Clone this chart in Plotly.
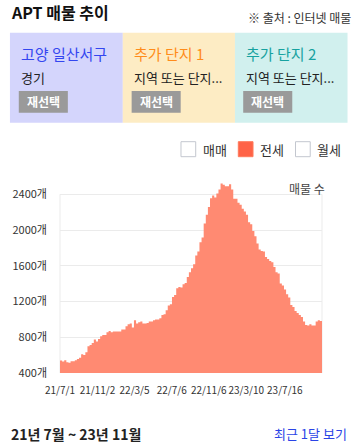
import plotly.graph_objects as go
import pandas as pd

W, H = 356, 446
ML, MR, MT, MB = 55, 34, 180, 73
FONT = "Noto Sans CJK KR"

# weekly listing counts (전세)
week_start = pd.date_range('2021-07-01', periods=124, freq='7D')
listings = [539, 528, 542, 520, 516, 531, 531, 542, 557, 572,
            609, 602, 632, 699, 714, 736, 774, 752, 781, 811,
            826, 826, 856, 870, 856, 864, 864, 864, 864, 886,
            886, 923, 945, 953, 908, 990, 953, 968, 976, 953,
            953, 960, 976, 976, 990, 998, 998, 1013, 1050, 1057,
            1102, 1155, 1169, 1251, 1274, 1349, 1363, 1356, 1393, 1408,
            1475, 1528, 1573, 1618, 1715, 1760, 1864, 1916, 2073, 2170,
            2259, 2357, 2387, 2364, 2409, 2454, 2521, 2506, 2491, 2491,
            2513, 2454, 2349, 2349, 2304, 2282, 2237, 2207, 2170, 2088,
            2065, 1990, 1931, 1849, 1782, 1766, 1760, 1699, 1677, 1654,
            1640, 1587, 1528, 1513, 1401, 1379, 1334, 1281, 1244, 1162,
            1139, 1094, 1072, 1050, 1027, 976, 938, 931, 945, 931,
            931, 976, 990, 983]

tick_dates = ['2021-07-01', '2021-11-02', '2022-03-05', '2022-07-06',
              '2022-11-06', '2023-03-10', '2023-07-16']
tick_labels = ['21/7/1', '21/11/2', '22/3/5', '22/7/6', '22/11/6', '23/3/10', '23/7/16']
y_ticks = [400, 800, 1200, 1600, 2000, 2400]
y_labels = [f'{v}개' for v in y_ticks]

# step ends one week after the last start
period_end = week_start[-1] + pd.Timedelta(days=7)
xs = list(week_start) + [period_end]
ys = listings + [listings[-1]]

FILL = '#ff8a72'


def px(x):
    return (x - ML) / (W - ML - MR)


def py(y):
    return (H - MB - y) / (H - MT - MB)


fig = go.Figure()
fig.add_trace(go.Scatter(x=xs, y=ys, mode='lines', line_shape='hv',
                         fill='tozeroy', fillcolor=FILL,
                         line=dict(width=0, color=FILL), hoverinfo='skip'))

shapes = []
annotations = []


def rect(x0, y0, x1, y1, fill, line=None, lw=0, layer='above'):
    shapes.append(dict(type='rect', xref='paper', yref='paper',
                       x0=px(x0), x1=px(x1), y0=py(y1), y1=py(y0),
                       fillcolor=fill, layer=layer,
                       line=dict(width=lw, color=line or fill)))


def text(x, y, s, size=13, color='#222', anchor='left', bold=False):
    annotations.append(dict(xref='paper', yref='paper', x=px(x), y=py(y),
                            text=f'<b>{s}</b>' if bold else s,
                            showarrow=False, xanchor=anchor, yanchor='middle',
                            borderpad=0,
                            font=dict(family=FONT, size=size, color=color)))


# header
text(4, 12, 'APT 매물 추이', size=16, color='#111', bold=True)
text(353, 17, '※ 출처 : 인터넷 매물', size=12, color='#333', anchor='right')

# selection boxes
boxes = [
    (4, 119, '#d4d5fc', '고양 일산서구', '#3346f0', '경기', 13),
    (119, 233.3, '#fdecc4', '추가 단지 1', '#ff8c1a', '지역 또는 단지...', 128),
    (233.3, 348, '#d1f0ee', '추가 단지 2', '#17a2a0', '지역 또는 단지...', 241.7),
]
for x0, x1, bg, title, tcolor, sub, bx in boxes:
    rect(x0, 32.7, x1, 122.7, bg)
    text(x0 + 10, 54, title, size=15, color=tcolor)
    text(x0 + 10, 78, sub, size=13, color='#222')
    rect(bx, 91, bx + 50, 112.7, '#9a9a9a')
    text(bx + 25, 102, '재선택', size=12, color='#ffffff', anchor='center', bold=True)

# legend checkboxes
legend = [(178.3, '#ffffff', '#c3c7cf', '매매'),
          (236.7, '#ff6347', '#ff7a5c', '전세'),
          (295, '#ffffff', '#c3c7cf', '월세')]
for lx, fill, edge, label in legend:
    rect(lx, 141.7, lx + 15, 156.7, fill, edge, 1)
    text(lx + 21, 149.3, label, size=13, color='#333')

# plot frame lines (left/right)
for xv in (0, 1):
    shapes.append(dict(type='line', xref='paper', yref='y', x0=xv, x1=xv,
                       y0=400, y1=2400, layer='below',
                       line=dict(color='#ebebeb', width=1)))

text(326, 188.5, '매물 수', size=12, color='#444', anchor='right')

# footer
text(4, 433.5, '21년 7월 ~ 23년 11월', size=14, color='#222', bold=True)
text(348, 433.5, '최근 1달 보기', size=13, color='#2b44e6', anchor='right')

fig.update_layout(
    width=W, height=H,
    margin=dict(l=ML, r=MR, t=MT, b=MB, pad=0),
    paper_bgcolor='white', plot_bgcolor='white',
    showlegend=False,
    font=dict(family=FONT, size=11, color='#333'),
    shapes=shapes, annotations=annotations,
    xaxis=dict(type='date', range=['2021-07-01', period_end],
               tickvals=tick_dates, ticktext=tick_labels, tickangle=0,
               showgrid=False, zeroline=False, showline=False,
               ticks='', ticklabelstandoff=10,
               tickfont=dict(family=FONT, size=10, color='#333'),
               fixedrange=True),
    yaxis=dict(range=[400, 2560], tickvals=y_ticks, ticktext=y_labels,
               showgrid=True, gridcolor='#ebebeb', gridwidth=1,
               zeroline=False, showline=False, ticks='',
               ticklabelstandoff=12,
               tickfont=dict(family=FONT, size=11, color='#333'),
               fixedrange=True),
)

fig.write_html('out.html', config={'displayModeBar': False},
               post_script="document.body.style.margin='0';"
                           "document.body.style.overflow='hidden';")
